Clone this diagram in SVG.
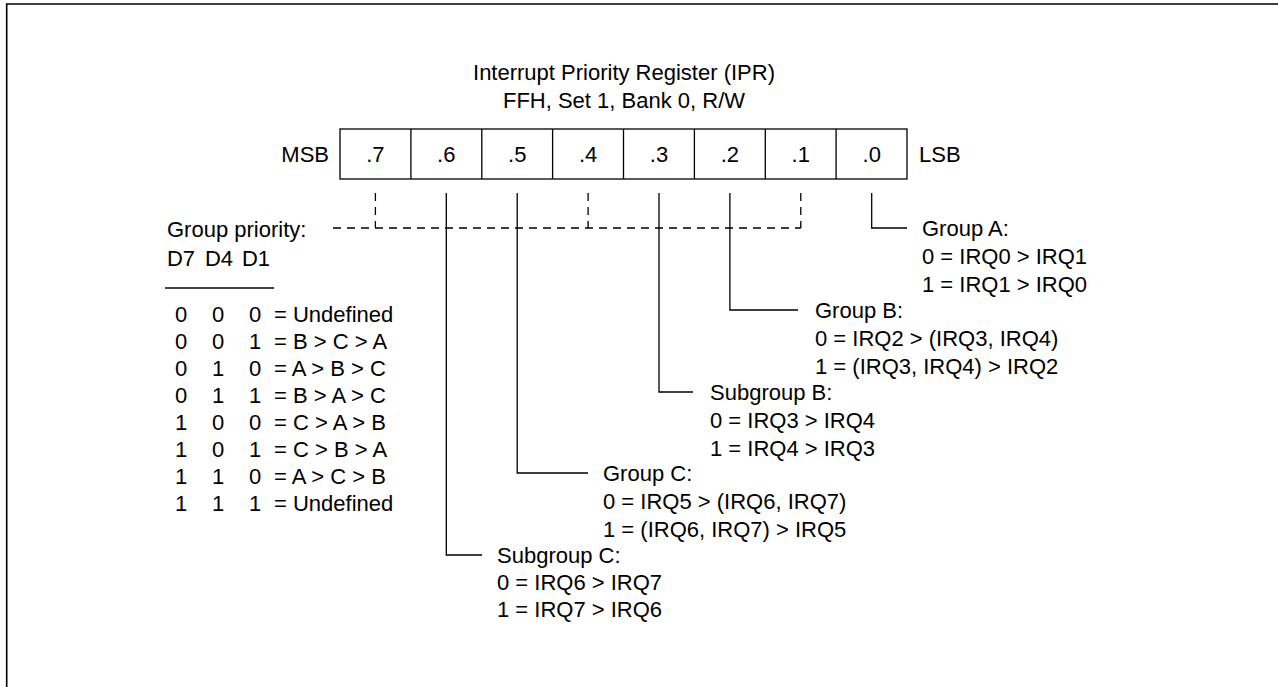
<svg xmlns="http://www.w3.org/2000/svg" width="1278" height="687" viewBox="0 0 1278 687">
<style>
text{font-family:"Liberation Sans",Arial,sans-serif;font-size:22px;fill:#000}
.c{text-anchor:middle}
.e{text-anchor:end}
.ln{stroke:#000;stroke-width:1.3;fill:none}
.dash{stroke:#000;stroke-width:1.3;fill:none;stroke-dasharray:8 6}
</style>
<rect width="1278" height="687" fill="#fff"/>
<path d="M6.7,687 V4 H1278" fill="none" stroke="#000" stroke-width="1.6"/>
<g id="title">
<text class="c" x="624" y="80">Interrupt Priority Register (IPR)</text>
<text class="c" x="624" y="108">FFH, Set 1, Bank 0, R/W</text>
</g>
<g id="register">
<rect class="ln" x="340" y="129" width="567" height="50"/>
<path class="ln" d="M410.9,129V179M481.8,129V179M552.6,129V179M623.5,129V179M694.4,129V179M765.3,129V179M836.1,129V179"/>
<text class="c" x="375.4" y="162">.7</text>
<text class="c" x="446.3" y="162">.6</text>
<text class="c" x="517.2" y="162">.5</text>
<text class="c" x="588.1" y="162">.4</text>
<text class="c" x="659" y="162">.3</text>
<text class="c" x="729.9" y="162">.2</text>
<text class="c" x="800.8" y="162">.1</text>
<text class="c" x="871.7" y="162">.0</text>
<text class="e" x="329" y="162">MSB</text>
<text x="919" y="162">LSB</text>
</g>
<g id="connectors">
<path class="dash" d="M375.4,193V228M588.1,193V228M800.8,193V228M333,228H800.8"/>
<path class="ln" d="M871.7,193V228H907"/>
<path class="ln" d="M729.9,193V310H798"/>
<path class="ln" d="M659,193V392H693"/>
<path class="ln" d="M517.2,193V473H588"/>
<path class="ln" d="M446.3,193V555H482"/>
</g>
<g id="group-priority">
<text x="167" y="237">Group priority:</text>
<text class="c" x="181" y="266">D7</text>
<text class="c" x="219" y="266">D4</text>
<text class="c" x="256" y="266">D1</text>
<path class="ln" d="M165,288H274"/>
<g class="c">
<text class="c" x="181" y="322">0</text><text class="c" x="218" y="322">0</text><text class="c" x="255" y="322">0</text>
<text class="c" x="181" y="349">0</text><text class="c" x="218" y="349">0</text><text class="c" x="255" y="349">1</text>
<text class="c" x="181" y="376">0</text><text class="c" x="218" y="376">1</text><text class="c" x="255" y="376">0</text>
<text class="c" x="181" y="403">0</text><text class="c" x="218" y="403">1</text><text class="c" x="255" y="403">1</text>
<text class="c" x="181" y="430">1</text><text class="c" x="218" y="430">0</text><text class="c" x="255" y="430">0</text>
<text class="c" x="181" y="457">1</text><text class="c" x="218" y="457">0</text><text class="c" x="255" y="457">1</text>
<text class="c" x="181" y="484">1</text><text class="c" x="218" y="484">1</text><text class="c" x="255" y="484">0</text>
<text class="c" x="181" y="511">1</text><text class="c" x="218" y="511">1</text><text class="c" x="255" y="511">1</text>
</g>
<text x="274" y="322">= Undefined</text>
<text x="274" y="349">= B &gt; C &gt; A</text>
<text x="274" y="376">= A &gt; B &gt; C</text>
<text x="274" y="403">= B &gt; A &gt; C</text>
<text x="274" y="430">= C &gt; A &gt; B</text>
<text x="274" y="457">= C &gt; B &gt; A</text>
<text x="274" y="484">= A &gt; C &gt; B</text>
<text x="274" y="511">= Undefined</text>
</g>
<g id="group-a">
<text x="922" y="236">Group A:</text>
<text x="922" y="264">0 = IRQ0 &gt; IRQ1</text>
<text x="922" y="292">1 = IRQ1 &gt; IRQ0</text>
</g>
<g id="group-b">
<text x="815" y="318">Group B:</text>
<text x="815" y="346">0 = IRQ2 &gt; (IRQ3, IRQ4)</text>
<text x="815" y="374">1 = (IRQ3, IRQ4) &gt; IRQ2</text>
</g>
<g id="subgroup-b">
<text x="710" y="400">Subgroup B:</text>
<text x="710" y="428">0 = IRQ3 &gt; IRQ4</text>
<text x="710" y="456">1 = IRQ4 &gt; IRQ3</text>
</g>
<g id="group-c">
<text x="603" y="481">Group C:</text>
<text x="603" y="509">0 = IRQ5 &gt; (IRQ6, IRQ7)</text>
<text x="603" y="537">1 = (IRQ6, IRQ7) &gt; IRQ5</text>
</g>
<g id="subgroup-c">
<text x="497" y="563">Subgroup C:</text>
<text x="497" y="590">0 = IRQ6 &gt; IRQ7</text>
<text x="497" y="617">1 = IRQ7 &gt; IRQ6</text>
</g>
</svg>
